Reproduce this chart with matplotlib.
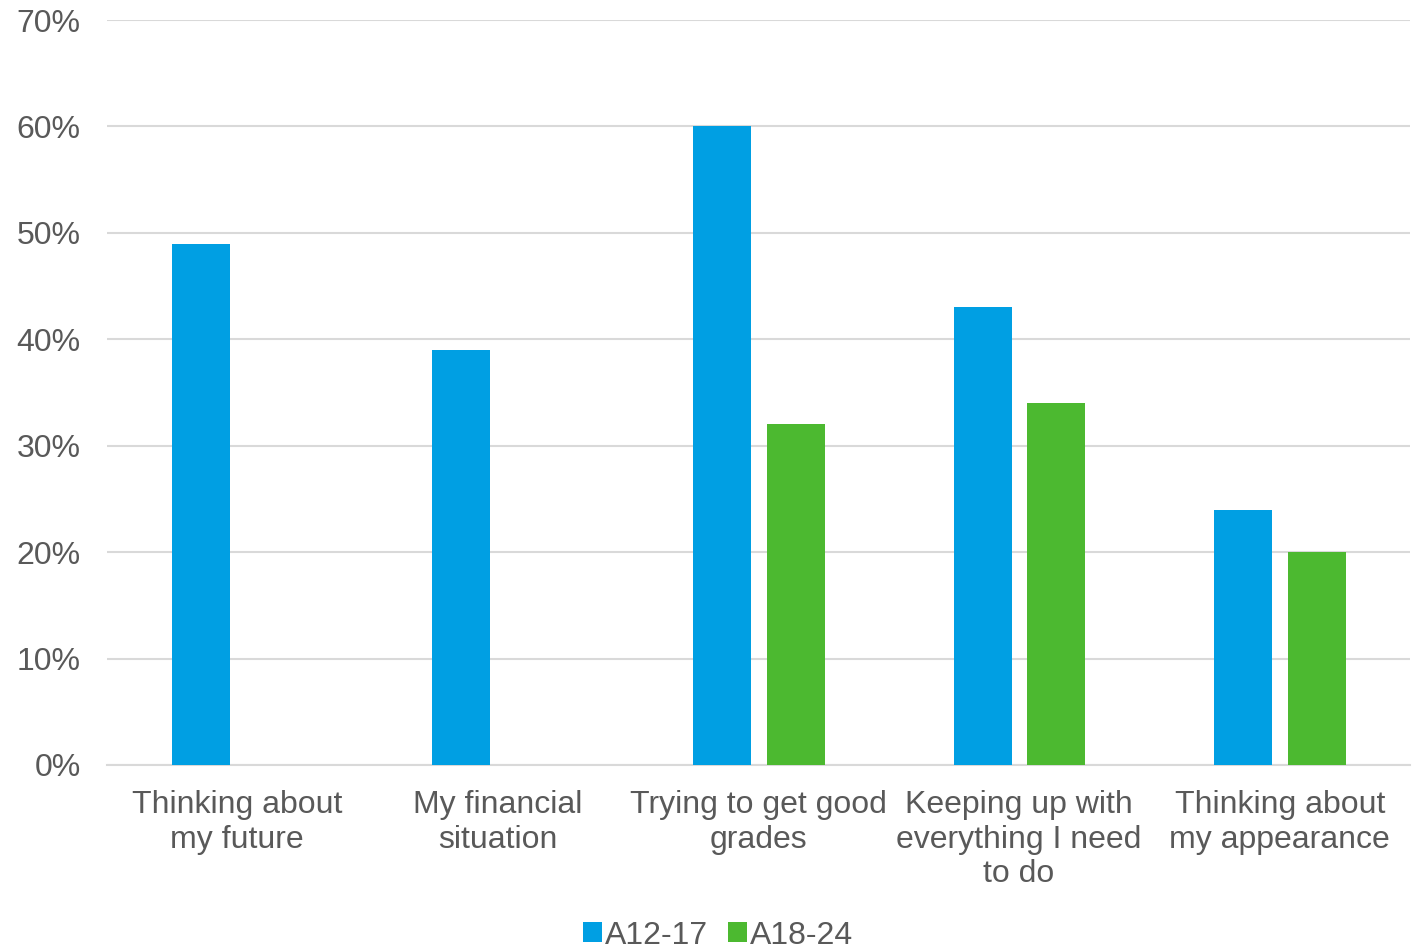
import numpy as np
import matplotlib.pyplot as plt

# Data
categories = ['Thinking about\nmy future', 'My financial\nsituation', 'Trying to get good\ngrades',
              'Keeping up with\neverything I need\nto do', 'Thinking about\nmy appearance']
a12_17 = [49, 39, 60, 43, 24]
a18_24 = [np.nan, np.nan, 32, 34, 20]
yticks = [0, 10, 20, 30, 40, 50, 60, 70]

plt.rcParams['font.family'] = ['Liberation Sans', 'DejaVu Sans']
text_color = '#595959'

fig = plt.figure(figsize=(14.22, 9.49), dpi=100)
ax = fig.add_axes([0.0752, 0.1939, 0.9164, 0.785])

x = np.arange(len(categories))
w = 0.223
ax.bar(x - 0.14, a12_17, w, color='#009fe3', label='A12-17', zorder=3)
ax.bar(x + 0.143, a18_24, w, color='#4cb930', label='A18-24', zorder=3)

ax.set_xlim(-0.5, len(categories) - 0.5)
ax.set_ylim(0, 70)
ax.set_yticks(yticks)
ax.set_yticklabels([f'{t}%' for t in yticks])
ax.set_xticks(x)
ax.set_xticklabels(categories, linespacing=1.2)
ax.tick_params(axis='both', length=0, labelsize=23, colors=text_color)
ax.tick_params(axis='y', pad=19)
ax.tick_params(axis='x', pad=18)
ax.grid(axis='y', color='#d9d9d9', linewidth=1.5, zorder=0)
for s in ['top', 'right', 'left']:
    ax.spines[s].set_visible(False)
ax.spines['bottom'].set_color('#d9d9d9')
ax.spines['bottom'].set_linewidth(1.5)

leg = fig.legend(loc='lower center', bbox_to_anchor=(0.505, -0.032), ncol=2, frameon=False,
                 fontsize=23, handlelength=0.6, handleheight=0.6, handletextpad=0.1,
                 columnspacing=0.6)
for t in leg.get_texts():
    t.set_color(text_color)

fig.savefig('out.png', dpi=100)
